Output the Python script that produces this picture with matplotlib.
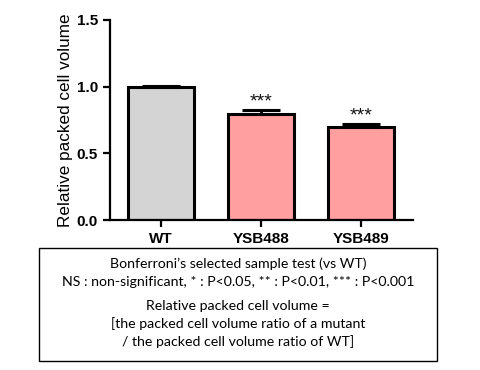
import numpy as np
import matplotlib as mpl
import matplotlib.pyplot as plt
from matplotlib.patches import Rectangle
mpl.use('Agg')

strains = ['WT', 'YSB488', 'YSB489']
volume = [1.0, 0.795, 0.70]
sem = [0.008, 0.03, 0.02]
stars = ['', '***', '***']
barColors = ['#d4d4d4', '#ff9f9f', '#ff9f9f']

fig = plt.figure(figsize=(4.8, 3.7), dpi=100)
ax = fig.add_axes([0.229, 0.405, 0.631, 0.541])

x = np.arange(len(strains))
ax.bar(x, volume, width=0.66, color=barColors, edgecolor='black', linewidth=2.2, zorder=2)
ax.errorbar(x, volume, yerr=[np.zeros(len(sem)), sem], fmt='none', ecolor='black',
            elinewidth=2.0, capsize=14, capthick=2.2, zorder=3)
for xi, v, s, st in zip(x, volume, sem, stars):
    if st:
        ax.text(xi, v + s + 0.0, st, ha='center', va='bottom', fontsize=14,
                family='Liberation Sans', color='#111111')

ax.set_xlim(-0.51, 2.52)
ax.set_ylim(0, 1.5)
ax.set_yticks([0.0, 0.5, 1.0, 1.5])
ax.set_yticklabels(['0.0', '0.5', '1.0', '1.5'])
ax.set_xticks(x)
ax.set_xticklabels(strains)
for lab in ax.get_xticklabels() + ax.get_yticklabels():
    lab.set_family('Liberation Sans')
    lab.set_fontweight('bold')
    lab.set_fontsize(11)
ax.set_ylabel('Relative packed cell volume', family='Liberation Sans',
              fontsize=12.3, labelpad=3)
ax.spines['top'].set_visible(False)
ax.spines['right'].set_visible(False)
ax.spines['left'].set_linewidth(1.6)
ax.spines['bottom'].set_linewidth(1.6)
ax.tick_params(width=1.6, length=5, direction='out')

# caption box
fig.patches.append(Rectangle((39 / 480, 1 - 361 / 370), 398 / 480, 113 / 370,
                             transform=fig.transFigure, fill=False, edgecolor='black',
                             linewidth=1.0))
captionTop = ["Bonferroni\u2019s selected sample test (vs WT)",
              "NS : non-significant, * : P<0.05, ** : P<0.01, *** : P<0.001"]
captionBottom = ["Relative packed cell volume =",
                 "[the packed cell volume ratio of a mutant",
                 "/ the packed cell volume ratio of WT]"]
for i, line in enumerate(captionTop):
    fig.text(238 / 480, 1 - (264 + 18 * i) / 370, line, ha='center', va='center',
             fontsize=10.2, family='Lato')
for i, line in enumerate(captionBottom):
    fig.text(238 / 480, 1 - (306 + 18 * i) / 370, line, ha='center', va='center',
             fontsize=10.2, family='Lato')

fig.savefig('out.png', dpi=100)
